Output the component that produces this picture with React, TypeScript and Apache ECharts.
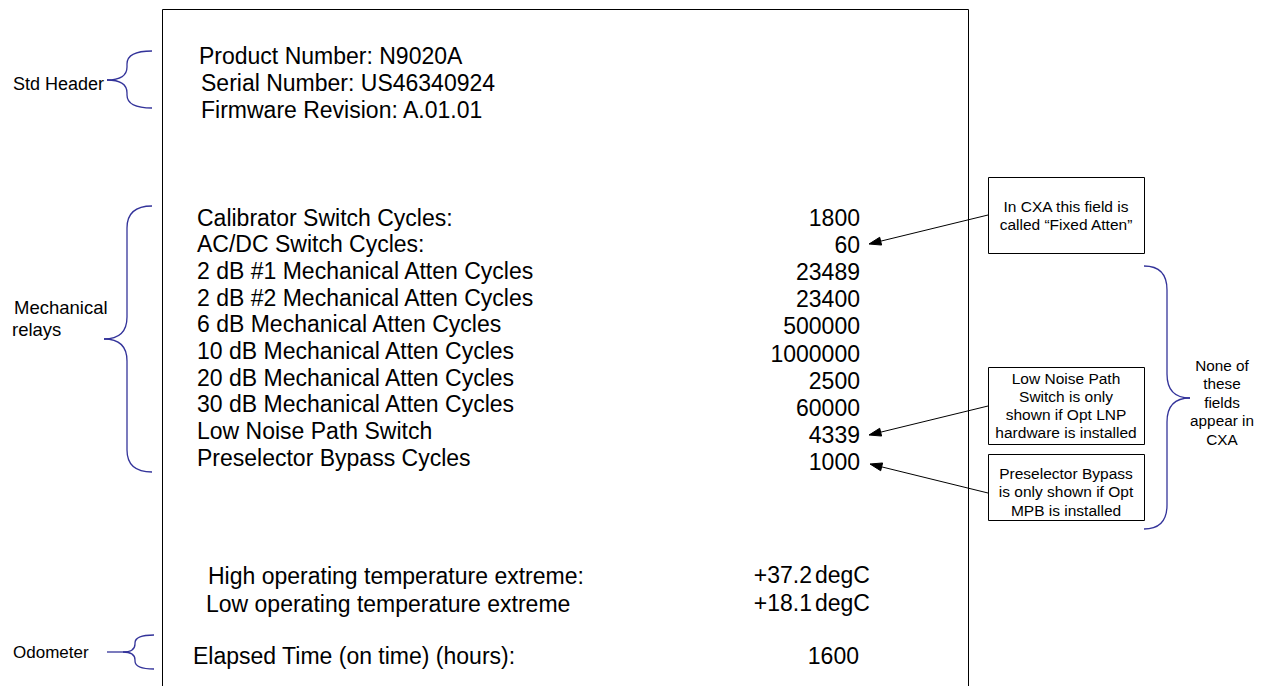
import React, { useEffect, useRef } from "react";
import * as echarts from "echarts";

const headerLines = ["Product Number: N9020A", "Serial Number: US46340924", "Firmware Revision: A.01.01"];
const relayLabels = [
  "Calibrator Switch Cycles:",
  "AC/DC Switch Cycles:",
  "2 dB #1 Mechanical Atten Cycles",
  "2 dB #2 Mechanical Atten Cycles",
  "6 dB Mechanical Atten Cycles",
  "10 dB Mechanical Atten Cycles",
  "20 dB Mechanical Atten Cycles",
  "30 dB Mechanical Atten Cycles",
  "Low Noise Path Switch",
  "Preselector Bypass Cycles",
];
const relayValues = ["1800", "60", "23489", "23400", "500000", "1000000", "2500", "60000", "4339", "1000"];
const tempLabels = ["High operating temperature extreme:", "Low operating temperature extreme"];
const tempValues = ["+37.2", "+18.1"];
const tempUnit = "degC";
const odoLabel = "Elapsed Time (on time) (hours):";
const odoValue = "1600";
const sideLabels = ["Std Header", "Mechanical", "relays", "Odometer"];
const note1 = ["In CXA this field is", "called \u201cFixed Atten\u201d"];
const note2 = ["Low Noise Path", "Switch is only", "shown if Opt LNP", "hardware is installed"];
const note3 = ["Preselector Bypass", "is only shown if Opt", "MPB is installed"];
const note4 = ["None of", "these", "fields", "appear in", "CXA"];

const FONT = "'Liberation Sans', Arial, sans-serif";
const BRACE = "#33339a";

function txt(x: number, y: number, text: string, size: number, align: string = "left") {
  return {
    type: "text",
    x,
    y,
    silent: true,
    style: {
      text,
      font: `${size}px ${FONT}`,
      fill: "#000",
      align,
      verticalAlign: "middle",
      textAlign: align,
      textVerticalAlign: "middle",
    },
  };
}

function line(x1: number, y1: number, x2: number, y2: number, stroke = "#000", lw = 1) {
  return { type: "line", shape: { x1, y1, x2, y2 }, style: { stroke, lineWidth: lw } };
}

function arrow(x1: number, y1: number, x2: number, y2: number) {
  const dx = x2 - x1, dy = y2 - y1;
  const len = Math.sqrt(dx * dx + dy * dy);
  const ux = dx / len, uy = dy / len;
  const L = 12, W = 4;
  const bx = x2 - ux * L, by = y2 - uy * L;
  const nx = -uy, ny = ux;
  return [
    line(x1, y1, bx, by),
    {
      type: "polygon",
      shape: { points: [[x2, y2], [bx + nx * W, by + ny * W], [bx - nx * W, by - ny * W]] },
      style: { fill: "#000", stroke: "#000", lineWidth: 1 },
    },
  ];
}

function quad(x1: number, y1: number, cx: number, cy: number, x2: number, y2: number) {
  return {
    type: "bezierCurve",
    shape: { x1, y1, x2, y2, cpx1: cx, cpy1: cy },
    style: { stroke: BRACE, lineWidth: 1.3, fill: null },
  };
}

function brace(xEnd: number, xV: number, xTip: number, top: number, mid: number, bot: number, r: number) {
  const els: any[] = [];
  els.push(quad(xEnd, top, xV, top, xV, top + r));
  if (mid - r > top + r) els.push(line(xV, top + r, xV, mid - r, BRACE, 1.3));
  els.push(quad(xV, mid - r, xV, mid, xTip, mid));
  els.push(quad(xTip, mid, xV, mid, xV, mid + r));
  if (bot - r > mid + r) els.push(line(xV, mid + r, xV, bot - r, BRACE, 1.3));
  els.push(quad(xV, bot - r, xV, bot, xEnd, bot));
  return els;
}

function rect(x: number, y: number, w: number, h: number) {
  return { type: "rect", shape: { x, y, width: w, height: h }, style: { fill: "#fff", stroke: "#000", lineWidth: 1 } };
}

export default function App() {
  const ref = useRef<HTMLDivElement>(null);
  useEffect(() => {
    if (!ref.current) return;
    const chart = echarts.init(ref.current, undefined, { renderer: "svg" });
    const els: any[] = [];

    // main frame
    els.push(line(162.5, 9.5, 968.5, 9.5));
    els.push(line(162.5, 9.5, 162.5, 690));
    els.push(line(968.5, 9.5, 968.5, 690));

    // header
    const hx = [199, 201, 201];
    headerLines.forEach((t, i) => els.push(txt(hx[i], 56 + i * 27, t, 23)));

    // relays
    relayLabels.forEach((t, i) => els.push(txt(197, 217.5 + i * 26.7, t, 23)));
    relayValues.forEach((t, i) => els.push(txt(860, 218 + i * 27.1, t, 23, "right")));

    // temperatures
    const tx = [208, 206];
    tempLabels.forEach((t, i) => els.push(txt(tx[i], 576 + i * 27.5, t, 23)));
    tempValues.forEach((t, i) => {
      els.push(txt(812, 575 + i * 27.5, t, 23, "right"));
      els.push(txt(815, 575 + i * 27.5, tempUnit, 23, "left"));
    });

    // odometer
    els.push(txt(193, 656, odoLabel, 23));
    els.push(txt(859, 656, odoValue, 23, "right"));

    // side labels
    els.push(txt(13, 84, sideLabels[0], 18));
    els.push(txt(14, 307, sideLabels[1], 18.5));
    els.push(txt(12, 329, sideLabels[2], 18.5));
    els.push(txt(13, 652, sideLabels[3], 17));

    // braces
    els.push(...brace(152, 127, 107, 51, 80, 108, 13));
    els.push(...brace(152, 127, 104, 206, 339, 472, 22));
    els.push(...brace(154, 135, 123, 635, 652, 669, 8));
    els.push(line(107, 652, 123, 652, BRACE, 1.3));
    els.push(...brace(1144, 1167, 1190, 266, 398, 529, 24));

    // note boxes
    els.push(rect(988.5, 177.5, 156, 76));
    note1.forEach((t, i) => els.push(txt(1066, 206 + i * 18, t, 15.5, "center")));
    els.push(rect(988.5, 367.5, 156, 77));
    note2.forEach((t, i) => els.push(txt(1066, 378 + i * 18.3, t, 15.5, "center")));
    els.push(rect(988.5, 454.5, 156, 66));
    note3.forEach((t, i) => els.push(txt(1066, 473 + i * 18.5, t, 15.5, "center")));
    note4.forEach((t, i) => els.push(txt(1222, 365 + i * 18.5, t, 15.3, "center")));

    // arrows
    els.push(...arrow(988, 215, 869, 244));
    els.push(...arrow(988, 406, 869, 435));
    els.push(...arrow(988, 493, 870, 464));

    chart.setOption({
      animation: false,
      backgroundColor: "#fff",
      graphic: { elements: els },
    });
    return () => chart.dispose();
  }, []);
  return (
    <div
      ref={ref}
      style={{ position: "fixed", left: 0, top: 0, width: 1264, height: 686, background: "#fff" }}
    />
  );
}
